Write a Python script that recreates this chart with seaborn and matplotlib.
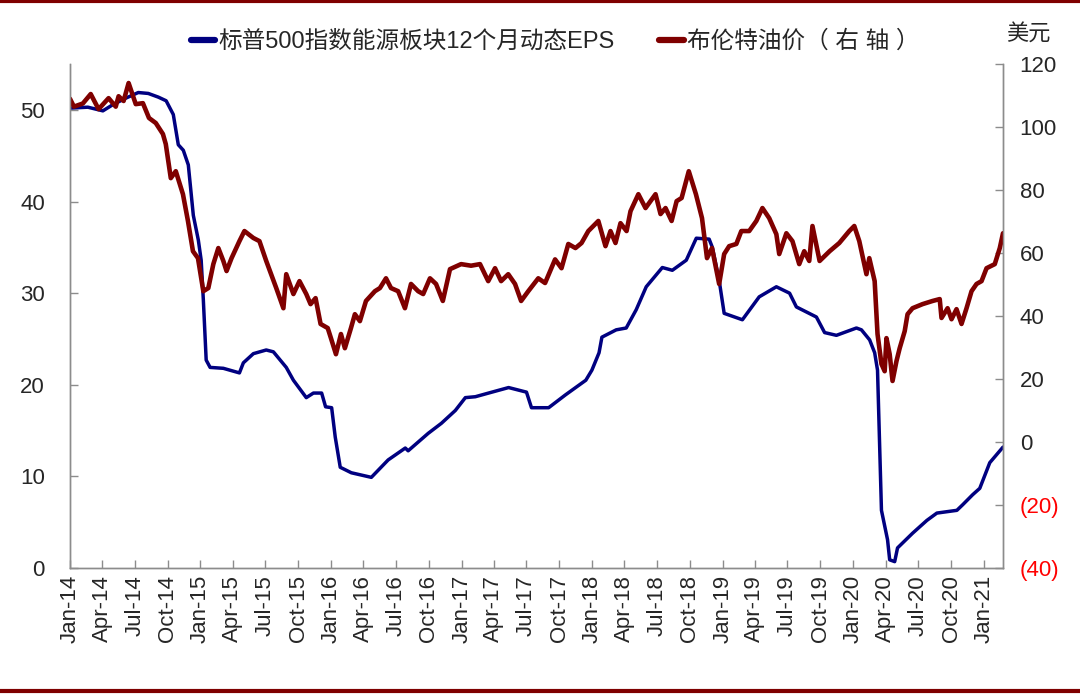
import pandas as pd
import matplotlib
matplotlib.use('Agg')
import matplotlib.pyplot as plt
import matplotlib.dates as mdates
from matplotlib.ticker import FuncFormatter, MultipleLocator
from matplotlib.lines import Line2D
import seaborn as sns

# 标普500能源板块12个月动态EPS（左轴）
eps_dates = ['2014-01-01', '2014-02-20', '2014-04-03', '2014-05-02', '2014-06-07', '2014-07-11',
             '2014-08-08', '2014-09-05', '2014-09-27', '2014-10-17', '2014-10-31', '2014-11-14',
             '2014-11-28', '2014-12-12', '2014-12-26', '2015-01-03', '2015-01-09', '2015-01-17',
             '2015-01-28', '2015-03-06', '2015-04-20', '2015-05-01', '2015-05-29', '2015-07-04',
             '2015-07-24', '2015-08-29', '2015-09-18', '2015-10-24', '2015-11-13', '2015-12-06',
             '2015-12-17', '2016-01-03', '2016-01-13', '2016-01-27', '2016-02-27', '2016-04-23',
             '2016-06-09', '2016-07-27', '2016-08-04', '2016-09-29', '2016-11-05', '2016-12-14',
             '2017-01-11', '2017-02-08', '2017-03-17', '2017-05-12', '2017-07-01', '2017-07-15',
             '2017-09-01', '2017-10-18', '2017-12-14', '2017-12-31', '2018-01-20', '2018-01-28',
             '2018-03-09', '2018-04-06', '2018-05-04', '2018-06-01', '2018-07-16', '2018-08-13',
             '2018-09-21', '2018-10-19', '2018-11-24', '2018-12-03', '2018-12-22', '2019-01-05',
             '2019-02-25', '2019-04-13', '2019-05-31', '2019-07-07', '2019-07-26', '2019-09-20',
             '2019-10-13', '2019-11-15', '2020-01-10', '2020-01-24', '2020-02-16', '2020-03-01',
             '2020-03-09', '2020-03-20', '2020-04-06', '2020-04-12', '2020-04-26', '2020-05-04',
             '2020-06-15', '2020-07-25', '2020-08-22', '2020-10-17', '2020-11-02', '2020-11-30',
             '2020-12-20', '2021-01-17', '2021-02-23']
eps_values = [50.2, 50.3, 49.9, 50.6, 51.3, 51.9,
              51.8, 51.4, 51.0, 49.5, 46.2, 45.6,
              44.0, 38.5, 35.8, 33.6, 29.3, 22.7,
              21.9, 21.8, 21.3, 22.4, 23.4, 23.8,
              23.6, 21.9, 20.5, 18.6, 19.1, 19.1,
              17.6, 17.5, 14.3, 11.0, 10.4, 9.9,
              11.8, 13.1, 12.8, 14.7, 15.8, 17.2,
              18.6, 18.7, 19.1, 19.7, 19.2, 17.5,
              17.5, 18.9, 20.5, 21.6, 23.5, 25.2,
              26.0, 26.2, 28.2, 30.7, 32.8, 32.5,
              33.6, 36.0, 35.9, 35.0, 31.4, 27.8,
              27.1, 29.6, 30.7, 30.0, 28.5, 27.4,
              25.7, 25.4, 26.2, 26.0, 24.9, 23.5,
              21.6, 6.3, 3.1, 0.9, 0.7, 2.2,
              3.8, 5.2, 6.0, 6.3, 6.9, 8.0,
              8.7, 11.5, 13.2]

# 布伦特油价（右轴，美元）
oil_dates = ['2014-01-01', '2014-01-12', '2014-02-06', '2014-02-28', '2014-03-22', '2014-04-19',
             '2014-05-09', '2014-05-17', '2014-05-31', '2014-06-14', '2014-07-04', '2014-07-24',
             '2014-08-10', '2014-08-29', '2014-09-18', '2014-09-26', '2014-10-10', '2014-10-24',
             '2014-11-13', '2014-11-27', '2014-12-11', '2014-12-25', '2015-01-09', '2015-01-23',
             '2015-02-06', '2015-02-20', '2015-03-06', '2015-03-15', '2015-03-29', '2015-04-20',
             '2015-05-04', '2015-05-29', '2015-06-15', '2015-07-04', '2015-08-01', '2015-08-21',
             '2015-08-29', '2015-09-18', '2015-10-05', '2015-10-24', '2015-11-05', '2015-11-19',
             '2015-12-03', '2015-12-23', '2016-01-01', '2016-01-15', '2016-01-29', '2016-02-09',
             '2016-02-26', '2016-03-08', '2016-03-22', '2016-04-08', '2016-05-03', '2016-05-17',
             '2016-06-03', '2016-06-17', '2016-07-07', '2016-07-26', '2016-08-12', '2016-09-01',
             '2016-09-15', '2016-10-04', '2016-10-21', '2016-11-09', '2016-11-29', '2016-12-30',
             '2017-01-27', '2017-02-21', '2017-03-16', '2017-04-04', '2017-04-21', '2017-05-11',
             '2017-05-30', '2017-06-16', '2017-07-06', '2017-08-03', '2017-08-22', '2017-09-19',
             '2017-10-07', '2017-10-26', '2017-11-15', '2017-12-02', '2017-12-21', '2018-01-18',
             '2018-02-07', '2018-02-21', '2018-03-07', '2018-03-21', '2018-04-07', '2018-04-18',
             '2018-05-10', '2018-05-30', '2018-06-27', '2018-07-11', '2018-07-25', '2018-08-11',
             '2018-08-25', '2018-09-08', '2018-09-28', '2018-10-18', '2018-11-04', '2018-11-18',
             '2018-12-02', '2018-12-22', '2019-01-05', '2019-01-19', '2019-02-08', '2019-02-22',
             '2019-03-16', '2019-04-05', '2019-04-22', '2019-05-11', '2019-05-31', '2019-06-08',
             '2019-06-28', '2019-07-15', '2019-08-03', '2019-08-17', '2019-08-31', '2019-09-09',
             '2019-09-29', '2019-10-27', '2019-11-23', '2019-12-21', '2020-01-04', '2020-01-18',
             '2020-02-07', '2020-02-15', '2020-03-01', '2020-03-09', '2020-03-20', '2020-03-29',
             '2020-04-03', '2020-04-12', '2020-04-20', '2020-05-01', '2020-05-10', '2020-05-24',
             '2020-06-01', '2020-06-15', '2020-07-13', '2020-08-10', '2020-08-30', '2020-09-04',
             '2020-09-21', '2020-10-02', '2020-10-16', '2020-10-30', '2020-11-13', '2020-11-27',
             '2020-12-11', '2020-12-25', '2021-01-08', '2021-01-31', '2021-02-14', '2021-02-23']
oil_values = [109.0, 106.5, 107.5, 110.5, 105.7, 109.2,
              106.5, 109.8, 108.3, 114.0, 107.3, 107.6,
              102.9, 101.3, 97.8, 94.6, 83.8, 86.0,
              78.7, 70.2, 60.6, 58.4, 47.9, 48.9,
              56.5, 61.6, 57.5, 54.3, 58.4, 63.8,
              67.0, 64.8, 63.8, 57.5, 48.9, 42.5,
              53.3, 47.0, 51.1, 47.0, 43.8, 45.7,
              37.5, 36.2, 33.0, 27.9, 34.3, 29.8,
              36.2, 40.6, 38.4, 44.8, 47.9, 48.9,
              52.0, 48.9, 47.9, 42.5, 50.2, 47.9,
              47.0, 52.0, 50.2, 44.8, 54.9, 56.5,
              56.0, 56.5, 51.1, 55.2, 51.1, 53.3,
              50.2, 44.8, 47.9, 52.0, 50.5, 58.0,
              55.2, 62.9, 61.6, 63.2, 67.0, 70.2,
              62.2, 67.0, 63.2, 69.5, 67.0, 73.3,
              78.7, 74.3, 78.7, 72.4, 74.3, 70.2,
              76.5, 77.5, 86.0, 78.7, 71.1, 58.4,
              61.6, 50.2, 59.7, 62.2, 62.9, 67.0,
              67.0, 70.2, 74.3, 71.1, 66.0, 59.7,
              66.3, 63.8, 56.5, 60.6, 57.5, 68.6,
              57.5, 60.6, 63.2, 67.0, 68.6, 63.8,
              53.3, 58.4, 51.1, 34.3, 24.8, 22.5,
              33.0, 27.9, 19.4, 25.7, 29.8, 35.2,
              40.6, 42.5, 43.8, 44.8, 45.4, 39.4,
              42.5, 39.0, 42.2, 37.5, 42.5, 47.9,
              50.2, 51.1, 55.2, 56.5, 61.6, 66.3]

eps_df = pd.DataFrame({'date': pd.to_datetime(eps_dates), 'eps': eps_values})
oil_df = pd.DataFrame({'date': pd.to_datetime(oil_dates), 'oil': oil_values})

blue = '#000080'
red = '#7f0000'
grey = '#8c8c8c'

sns.set_style('white')
plt.rcParams['font.family'] = ['Liberation Sans', 'Noto Sans CJK SC', 'DejaVu Sans']
plt.rcParams['font.size'] = 16

fig = plt.figure(figsize=(10.8, 6.97), dpi=100)
ax = fig.add_axes([0.0648, 0.185, 0.8639, 0.723])
ax2 = ax.twinx()

sns.lineplot(data=eps_df, x='date', y='eps', ax=ax, color=blue, linewidth=2.5, legend=False)
sns.lineplot(data=oil_df, x='date', y='oil', ax=ax2, color=red, linewidth=3.3, legend=False)

ax.set_xlim(pd.Timestamp('2014-01-01'), pd.Timestamp('2021-02-23'))
ax.set_ylim(0, 55)
ax2.set_ylim(-40, 120)
ax.yaxis.set_major_locator(MultipleLocator(10))
ax2.yaxis.set_major_locator(MultipleLocator(20))

ax.xaxis.set_major_locator(mdates.MonthLocator(bymonth=[1, 4, 7, 10]))
ax.xaxis.set_major_formatter(mdates.DateFormatter('%b-%y'))
for lab in ax.get_xticklabels():
    lab.set_rotation(90)

ax2.yaxis.set_major_formatter(FuncFormatter(lambda v, p: f'({abs(int(v))})' if v < 0 else f'{int(v)}'))
for lab, v in zip(ax2.get_yticklabels(), ax2.get_yticks()):
    if v < 0:
        lab.set_color('red')

ax.set_xlabel('')
ax.set_ylabel('')
ax2.set_ylabel('')

for a in (ax, ax2):
    a.spines['top'].set_visible(False)
    for s in ('left', 'right', 'bottom'):
        a.spines[s].set_color(grey)
        a.spines[s].set_linewidth(1.0)
ax.tick_params(axis='x', bottom=True, direction='in', length=6, width=1, color=grey, pad=5, labelsize=16)
ax.tick_params(axis='y', left=True, right=False, direction='in', length=6, width=1, color=grey, pad=18, labelsize=16)
ax2.tick_params(axis='y', right=True, left=False, direction='in', length=6, width=1, color=grey, pad=12, labelsize=16)

handles = [Line2D([], [], color=blue, linewidth=4.5),
           Line2D([], [], color=red, linewidth=4.5)]
fig.legend(handles, ['标普500指数能源板块12个月动态EPS', '布伦特油价（ 右 轴 ）'],
           loc='center', bbox_to_anchor=(0.514, 0.94), ncol=2, frameon=False,
           handlelength=1.05, handletextpad=0.12, columnspacing=1.9, fontsize=17)

fig.text(0.952, 0.95, '美元', ha='center', va='center', fontsize=16)

# 上下两条深红色横线
fig.add_artist(Line2D([0, 1], [0.998, 0.998], color=red, linewidth=3, transform=fig.transFigure))
fig.add_artist(Line2D([0, 1], [0.009, 0.009], color=red, linewidth=3, transform=fig.transFigure))

plt.savefig('out.png', dpi=100)
